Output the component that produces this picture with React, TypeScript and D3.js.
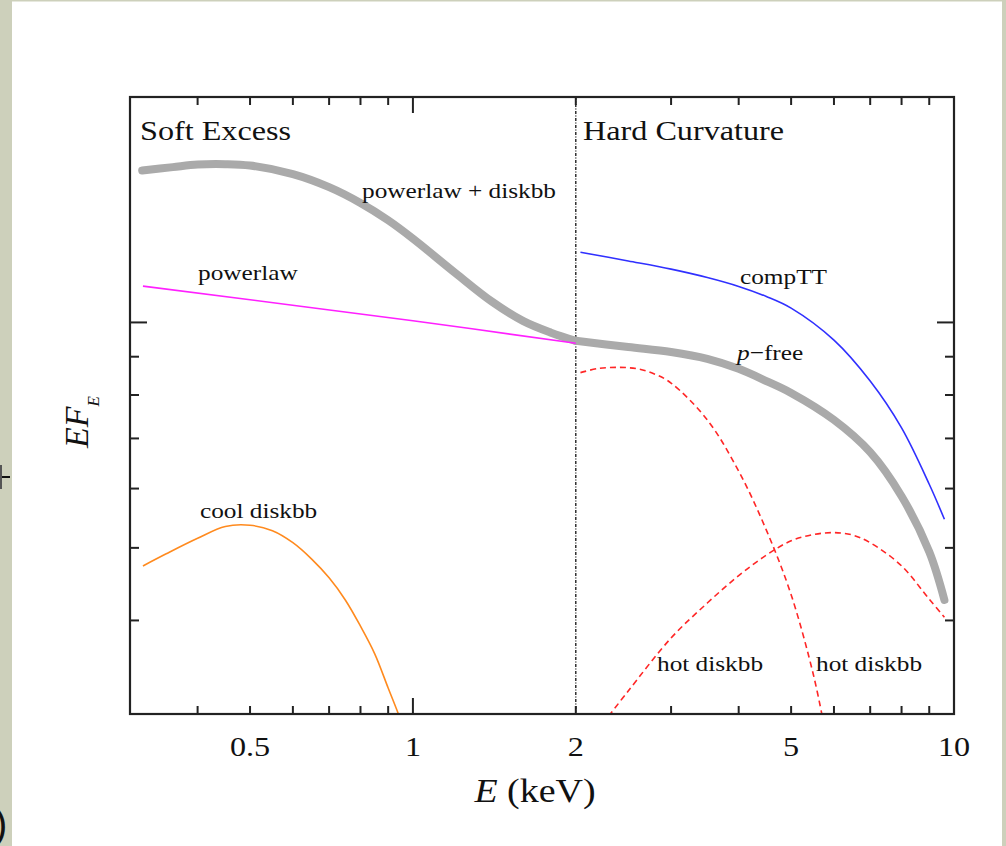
import * as d3 from "d3"

// energies in keV, fluxes in EF_E units (1 = the long tick on the y axis)
const softTotalE = [0.316, 0.36, 0.4, 0.45, 0.5, 0.6, 0.7, 0.8, 0.9, 1.0, 1.2, 1.4, 1.6, 1.8, 2.0]
const softTotalF = [1.595, 1.612, 1.625, 1.627, 1.62, 1.578, 1.516, 1.444, 1.369, 1.294, 1.163, 1.066, 1.004, 0.969, 0.945]

const hardTotalE = [2.0, 2.5, 3, 3.5, 4, 4.5, 5, 6, 7, 8, 9, 9.6]
const hardTotalF = [0.945, 0.927, 0.913, 0.894, 0.867, 0.835, 0.805, 0.741, 0.671, 0.586, 0.494, 0.426]

const powerlawE = [0.317, 1, 2]
const powerlawF = [1.118, 1.005, 0.938]

const compTTE = [2.04, 2.5, 3, 3.5, 4, 4.5, 5, 6, 7, 8, 9, 9.6]
const compTTF = [1.241, 1.208, 1.178, 1.148, 1.117, 1.083, 1.045, 0.947, 0.835, 0.723, 0.608, 0.546]

const hotLowE = [2.04, 2.2, 2.4, 2.6, 2.8, 3, 3.5, 4, 4.5, 5, 5.5, 5.75]
const hotLowF = [0.857, 0.868, 0.871, 0.867, 0.853, 0.83, 0.741, 0.633, 0.528, 0.433, 0.338, 0.29]

const hotHighE = [2.3, 2.5, 3, 3.5, 4, 4.5, 5, 5.5, 6, 6.5, 7, 8, 9, 9.6]
const hotHighF = [0.298, 0.322, 0.379, 0.422, 0.459, 0.489, 0.511, 0.521, 0.524, 0.52, 0.508, 0.473, 0.427, 0.404]

const coolE = [0.317, 0.35, 0.4, 0.45, 0.5, 0.55, 0.6, 0.65, 0.7, 0.75, 0.8, 0.85, 0.9, 0.94, 0.96]
const coolF = [0.473, 0.491, 0.515, 0.534, 0.536, 0.527, 0.508, 0.483, 0.456, 0.426, 0.393, 0.361, 0.325, 0.3, 0.287]

const xMinorTicks = [0.4, 0.5, 0.6, 0.7, 0.8, 0.9, 2, 3, 4, 5, 6, 7, 8, 9]
const xMajorTicks = [1]
const xTickLabels = [0.5, 1, 2, 5, 10]
const yMinorTicks = [0.4, 0.5, 0.6, 0.7, 0.8, 0.9]
const yMajorTicks = [1]

const left = 130, right = 954, top = 97, bottom = 714
const sx = 1.15 // the figure is stretched a little sideways
const serif = "'Liberation Serif', 'Times New Roman', serif"

const x = d3.scaleLog().domain([0.3, 10]).range([left, right])
const y = d3.scaleLog().domain([0.3, 2]).range([bottom, top])

const line = d3
  .line<[number, number]>()
  .x((d) => x(d[0]))
  .y((d) => y(d[1]))
  .curve(d3.curveCatmullRom.alpha(0.5))

const path = (es: number[], fs: number[]) => line(es.map((e, i) => [e, fs[i]]))!

const Label = ({ px, py, size, children, anchor = "start" }: any) => (
  <text
    transform={`translate(${px},${py}) scale(${sx},1)`}
    fontFamily={serif}
    fontSize={size}
    fill="#111"
    textAnchor={anchor}
  >
    {children}
  </text>
)

export default function App() {
  return (
    <svg width={1006} height={846} style={{ position: "absolute", left: 0, top: 0, display: "block" }}>
      <rect width={1006} height={846} fill="#cdd0bb" />
      <rect x={12} y={1.5} width={990} height={845} fill="#fff" />
      {/* slide leftovers on the left edge */}
      <line x1={0} x2={10} y1={477} y2={477} stroke="#111" strokeWidth={2} />
      <line x1={1} x2={1} y1={465} y2={489} stroke="#555" strokeWidth={2} />
      <text x={-6} y={838} fontFamily="'Liberation Sans', sans-serif" fontSize={40} fill="#111">)</text>

      <defs>
        <clipPath id="plot">
          <rect x={left} y={top} width={right - left} height={bottom - top} />
        </clipPath>
      </defs>

      <g clipPath="url(#plot)" fill="none">
        {/* 2 keV divider */}
        <line
          x1={x(2)} x2={x(2)} y1={top} y2={bottom}
          stroke="#111" strokeWidth={1.3} strokeDasharray="3,1.5,1,1.5"
        />
        <path d={path(coolE, coolF)} stroke="#ff8a1e" strokeWidth={1.6} />
        <path d={path(hotLowE, hotLowF)} stroke="#ff2626" strokeWidth={1.6} strokeDasharray="6,4" />
        <path d={path(hotHighE, hotHighF)} stroke="#ff2626" strokeWidth={1.6} strokeDasharray="6,4" />
        <path d={path(compTTE, compTTF)} stroke="#3030ff" strokeWidth={1.6} />
        <path d={path(softTotalE, softTotalF)} stroke="#aaa" strokeWidth={8} strokeLinecap="round" />
        <path d={path(hardTotalE, hardTotalF)} stroke="#aaa" strokeWidth={8} strokeLinecap="round" />
        <path d={path(powerlawE, powerlawF)} stroke="#ff20ff" strokeWidth={1.6} />
      </g>

      {/* ticks */}
      <g stroke="#222" strokeWidth={2}>
        {xMinorTicks.map((t) => (
          <g key={"xm" + t}>
            <line x1={x(t)} x2={x(t)} y1={bottom} y2={bottom - 8} />
            <line x1={x(t)} x2={x(t)} y1={top} y2={top + 8} />
          </g>
        ))}
        {xMajorTicks.map((t) => (
          <g key={"xM" + t}>
            <line x1={x(t)} x2={x(t)} y1={bottom} y2={bottom - 16} />
            <line x1={x(t)} x2={x(t)} y1={top} y2={top + 16} />
          </g>
        ))}
        {yMinorTicks.map((t) => (
          <g key={"ym" + t}>
            <line x1={left} x2={left + 9} y1={y(t)} y2={y(t)} />
            <line x1={right} x2={right - 9} y1={y(t)} y2={y(t)} />
          </g>
        ))}
        {yMajorTicks.map((t) => (
          <g key={"yM" + t}>
            <line x1={left} x2={left + 17} y1={y(t)} y2={y(t)} />
            <line x1={right} x2={right - 17} y1={y(t)} y2={y(t)} />
          </g>
        ))}
      </g>
      <rect x={left} y={top} width={right - left} height={bottom - top} fill="none" stroke="#222" strokeWidth={2.2} />

      {xTickLabels.map((t) => (
        <Label key={"tl" + t} px={x(t)} py={756} size={28} anchor="middle">
          {String(t)}
        </Label>
      ))}

      <Label px={535} py={802} size={33} anchor="middle">
        <tspan fontStyle="italic">E</tspan> (keV)
      </Label>
      <text transform="translate(88,448) rotate(-90)" fontFamily={serif} fontSize={34} fill="#111" fontStyle="italic">
        EF
        <tspan fontSize={17} dy={11}>E</tspan>
      </text>

      <Label px={140} py={140} size={28}>Soft Excess</Label>
      <Label px={583} py={140} size={28}>Hard Curvature</Label>
      <Label px={362} py={198} size={22}>powerlaw + diskbb</Label>
      <Label px={198} py={280} size={22}>powerlaw</Label>
      <Label px={740} py={284} size={22}>compTT</Label>
      <Label px={737} py={360} size={22}>
        <tspan fontStyle="italic">p</tspan>−free
      </Label>
      <Label px={200} py={518} size={22}>cool diskbb</Label>
      <Label px={657} py={671} size={22}>hot diskbb</Label>
      <Label px={816} py={671} size={22}>hot diskbb</Label>
    </svg>
  )
}
